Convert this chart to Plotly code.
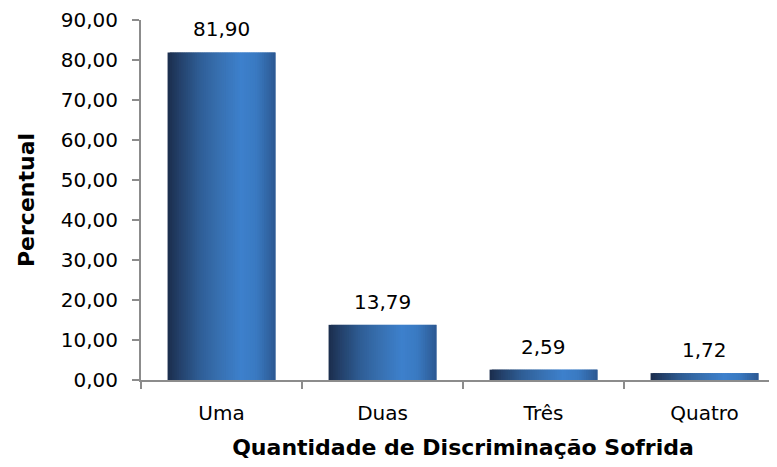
import plotly.graph_objects as go

categories = ["Uma", "Duas", "Três", "Quatro"]
values = [81.90, 13.79, 2.59, 1.72]
y_ticks = [0, 10, 20, 30, 40, 50, 60, 70, 80, 90]

# horizontal gradient stops (position across bar, colour)
stops = [(0.0, (27, 45, 76)), (0.12, (36, 66, 108)), (0.3, (47, 94, 150)),
         (0.5, (56, 114, 180)), (0.68, (61, 128, 204)), (0.82, (58, 122, 194)),
         (1.0, (44, 88, 146))]

def col_at(t):
    for (t0, c0), (t1, c1) in zip(stops[:-1], stops[1:]):
        if t0 <= t <= t1:
            f = (t - t0) / (t1 - t0)
            return "rgb(%d,%d,%d)" % tuple(round(a + (b - a) * f) for a, b in zip(c0, c1))
    return "rgb(%d,%d,%d)" % stops[-1][1]

BAR_W = 0.67
n = 48
sw = BAR_W / n

fig = go.Figure()
for i in range(n):
    fig.add_trace(go.Bar(
        x=list(range(len(categories))), y=values,
        width=sw * 2 if i < n - 1 else sw, offset=-BAR_W / 2 + i * sw,
        marker=dict(color=col_at((i + 0.5) / n), line=dict(width=0)),
        showlegend=False, hoverinfo="skip"))

for i, v in enumerate(values):
    fig.add_annotation(x=i, y=v, text=f"{v:.2f}".replace(".", ","),
                       showarrow=False, yanchor="bottom", yshift=9,
                       font=dict(family="DejaVu Sans", size=20, color="#000000"))

# page body has an 8px margin, so the figure starts at (8, 8)
fig.update_layout(
    width=777, height=467,
    margin=dict(l=133, r=0, t=12, b=95),
    paper_bgcolor="white", plot_bgcolor="white",
    barmode="overlay",
    separators=",.",
    font=dict(family="DejaVu Sans", size=20, color="#000000"),
)
fig.update_xaxes(
    range=[-0.5, 3.5], automargin=False,
    tickmode="array", tickvals=list(range(len(categories))), ticktext=categories,
    showline=True, linecolor="#8c8c8c", linewidth=2,
    ticks="", showgrid=False, zeroline=False,
    ticklabelstandoff=14,
    title=dict(text="<b>Quantidade de Discriminação Sofrida</b>",
               font=dict(family="DejaVu Sans", size=22), standoff=16),
    tickfont=dict(size=20),
    minor=dict(tickmode="array", tickvals=[-0.5, 0.5, 1.5, 2.5, 3.5],
               ticks="outside", ticklen=7, tickwidth=2, tickcolor="#8c8c8c"),
)
fig.update_yaxes(
    range=[0, 90], tickvals=y_ticks, tickformat=".2f", automargin=False,
    showline=True, linecolor="#8c8c8c", linewidth=2,
    ticks="outside", ticklen=7, tickwidth=2, tickcolor="#8c8c8c",
    ticklabelstandoff=10,
    showgrid=False, zeroline=False,
    title=dict(text="<b>Percentual</b>", font=dict(family="DejaVu Sans", size=22), standoff=20),
    tickfont=dict(size=20),
)

fig.write_html("out.html")
